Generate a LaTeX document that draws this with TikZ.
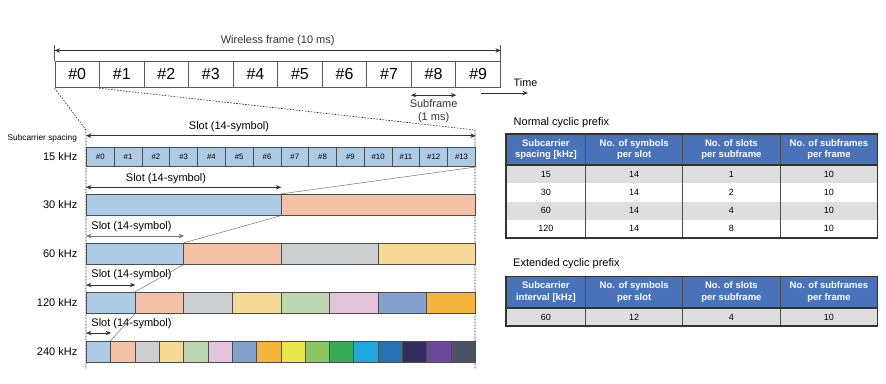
\documentclass[tikz,border=0pt]{standalone}
\usepackage{fontspec}
\setmainfont{Liberation Sans}
\usetikzlibrary{arrows.meta}
\definecolor{hdrblue}{HTML}{4A72B8}
\definecolor{rowgray}{HTML}{DEDEDF}
\definecolor{ca}{HTML}{AECBE5}
\definecolor{cb}{HTML}{F2C1A6}
\definecolor{cc}{HTML}{CDCED0}
\definecolor{cd}{HTML}{F6D997}
\definecolor{ce}{HTML}{BDD7B3}
\definecolor{cf}{HTML}{E4C4DC}
\definecolor{cg}{HTML}{84A1CE}
\definecolor{ch}{HTML}{F4B43E}
\definecolor{ci}{HTML}{EBE74C}
\definecolor{cj}{HTML}{8CC665}
\definecolor{ck}{HTML}{36AC5A}
\definecolor{cl}{HTML}{22A6DF}
\definecolor{cm}{HTML}{2473B4}
\definecolor{cn}{HTML}{2F2E5E}
\definecolor{co}{HTML}{6B4699}
\definecolor{cp}{HTML}{4A5366}
\begin{document}
\begin{tikzpicture}[x=1pt,y=-1pt,
  lbl/.style={inner sep=0pt,font=\fontsize{11}{13}\selectfont},
  fcell/.style={draw=black!65,line width=0.9pt,minimum width=44.55pt,minimum height=26.8pt,inner sep=0pt,anchor=north west,font=\fontsize{16}{18}\selectfont},
  scell/.style={draw=black!70,line width=0.8pt,minimum height=21pt,inner sep=0pt,anchor=north west},
  dim/.style={{Stealth[length=5.5pt,width=4.5pt]}-{Stealth[length=5.5pt,width=4.5pt]},line width=0.9pt,black!80},
  guide/.style={dash pattern=on 1.6pt off 1.4pt,line width=0.6pt,black!85},
  link/.style={line width=0.5pt,black!55},
  hd/.style={align=center,text=white,inner sep=0pt,font=\fontsize{9.5}{11.8}\selectfont\bfseries},
  td/.style={inner sep=0pt,font=\fontsize{9}{10}\selectfont},
  tline/.style={line width=0.8pt,black!70},
  tframe/.style={line width=1.2pt,black!80}]
\useasboundingbox (0,0) rectangle (886,383);
\begin{scope}
\foreach \i in {0,...,9} \node[fcell] (f\i) at ({54.5+44.55*\i},60.5) {\#\i};
\draw[black!65,line width=0.9pt] (f0.north west) -- ++(0,-16) coordinate (wl);
\draw[black!65,line width=0.9pt] (f9.north east) -- ++(0,-16) coordinate (wr);
\draw[dim] ([yshift=-6pt]wl) -- ([yshift=-6pt]wr) node[midway,above=4pt,lbl] {Wireless frame (10 ms)};
\draw[dim] ([yshift=-7pt]f8.south west) -- ([yshift=-7pt]f8.south east) node[midway,below=3.5pt,lbl,align=center] (sf) {Subframe\\(1 ms)};
\coordinate (t0) at (480.7,93);
\coordinate (t1) at (528,93);
\draw[-{Stealth[length=5.5pt,width=4.5pt]},line width=0.9pt,black!80] (t0) -- (t1);
\node[lbl,anchor=west,font=\fontsize{10.8}{12}\selectfont] (time) at (513.5,83) {Time};
\end{scope}
\begin{scope}
\coordinate (tl) at (86,130);
\coordinate (tr) at (475,130);
\coordinate (bl) at (86,369);
\coordinate (br) at (475,369);
\draw[guide] (f0.south west) -- (tl) -- (bl);
\draw[guide] (f1.south west) -- (tr) -- (br);
\node[lbl,anchor=west,font=\fontsize{8.3}{10}\selectfont] (scs) at (7.5,138) {Subcarrier spacing};
\foreach \i in {0,...,13} \node[scell,fill=ca,minimum width=27.786pt,minimum height=19.5pt,font=\fontsize{7.8}{9}\selectfont] (s\i) at ({86+27.786*\i},146.7) {\#\i};
\foreach \c [count=\i from 0] in {ca,cb} \node[scell,fill=\c,minimum width=194.5pt] (a\i) at ({86+194.5*\i},194) {};
\foreach \c [count=\i from 0] in {ca,cb,cc,cd} \node[scell,fill=\c,minimum width=97.25pt] (b\i) at ({86+97.25*\i},243) {};
\foreach \c [count=\i from 0] in {ca,cb,cc,cd,ce,cf,cg,ch} \node[scell,fill=\c,minimum width=48.625pt] (c\i) at ({86+48.625*\i},292) {};
\foreach \c [count=\i from 0] in {ca,cb,cc,cd,ce,cf,cg,ch,ci,cj,ck,cl,cm,cn,co,cp} \node[scell,fill=\c,minimum width=24.3125pt] (d\i) at ({86+24.3125*\i},341) {};
\node[lbl,anchor=east] (k15) at (77.5,156.5) {15 kHz};
\node[lbl,anchor=east] (k30) at (77.5,204.5) {30 kHz};
\node[lbl,anchor=east] (k60) at (77.5,253.5) {60 kHz};
\node[lbl,anchor=east] (k120) at (77.5,302.5) {120 kHz};
\node[lbl,anchor=east] (k240) at (77.5,351.5) {240 kHz};
\draw[dim] ([yshift=11pt]s0.north west) -- ([yshift=11pt]s13.north east);
\draw[dim] ([yshift=6.7pt]a0.north west) -- ([yshift=6.7pt]a0.north east);
\draw[dim,black!55] ([yshift=7pt]b0.north west) -- ([yshift=7pt]b0.north east);
\draw[dim] ([yshift=7pt]c0.north west) -- ([yshift=7pt]c0.north east);
\draw[dim] ([yshift=8pt]d0.north west) -- ([yshift=8pt]d0.north east);
\node[lbl] (sl15) at (229,126.5) {Slot (14-symbol)};
\node[lbl] (sl30) at (166,178.3) {Slot (14-symbol)};
\node[lbl] (sl60) at (131.5,226.5) {Slot (14-symbol)};
\node[lbl] (sl120) at (131.5,275) {Slot (14-symbol)};
\node[lbl] (sl240) at (131.5,323.5) {Slot (14-symbol)};
\draw[link] (s13.south east) -- (a1.north west);
\draw[link] (a1.south west) -- (b1.north west);
\draw[link] (b1.south west) -- (c1.north west);
\draw[link] (c1.south west) -- (d1.north west);
\end{scope}
\begin{scope}
\node[lbl,anchor=west] (ncp) at (513.5,122.7) {Normal cyclic prefix};
\fill[hdrblue] (506,134) rectangle (877.7,165);
\fill[rowgray] (506,165) rectangle (877.7,183.25);
\fill[rowgray] (506,201.5) rectangle (877.7,219.75);
\foreach \x in {585.7,682.7,780} \draw[tline] (\x,134) -- (\x,238);
\draw[tframe] (506,134) rectangle (877.7,238);
\draw[tframe] (506,165) -- (877.7,165);
\foreach \x/\t [count=\k] in {545.9/{Subcarrier\\spacing [kHz]},634.2/{No. of symbols\\per slot},731.4/{No. of slots\\per subframe},828.9/{No. of subframes\\per frame}} \node[hd] (nh\k) at (\x,149.5) {\t};
\foreach \a/\b/\c/\d [count=\r] in {15/14/1/10,30/14/2/10,60/14/4/10,120/14/8/10} {
  \node[td] (n\r a) at (545.9,{165+18.25*(\r-0.5)}) {\a};
  \node[td] (n\r b) at (634.2,{165+18.25*(\r-0.5)}) {\b};
  \node[td] (n\r c) at (731.4,{165+18.25*(\r-0.5)}) {\c};
  \node[td] (n\r d) at (828.9,{165+18.25*(\r-0.5)}) {\d};
}
\end{scope}
\begin{scope}
\node[lbl,anchor=west] (ecp) at (513,263.3) {Extended cyclic prefix};
\fill[hdrblue] (506,276.7) rectangle (877.7,308);
\fill[rowgray] (506,308) rectangle (877.7,326);
\foreach \x in {585.7,682.7,780} \draw[tline] (\x,276.7) -- (\x,326);
\draw[tframe] (506,276.7) rectangle (877.7,326);
\draw[tframe] (506,308) -- (877.7,308);
\foreach \x/\t [count=\k] in {545.9/{Subcarrier\\interval [kHz]},634.2/{No. of symbols\\per slot},731.4/{No. of slots\\per subframe},828.9/{No. of subframes\\per frame}} \node[hd] (eh\k) at (\x,292.3) {\t};
\node[td] (e1) at (545.9,317) {60};
\node[td] (e2) at (634.2,317) {12};
\node[td] (e3) at (731.4,317) {4};
\node[td] (e4) at (828.9,317) {10};
\end{scope}
\end{tikzpicture}
\end{document}
